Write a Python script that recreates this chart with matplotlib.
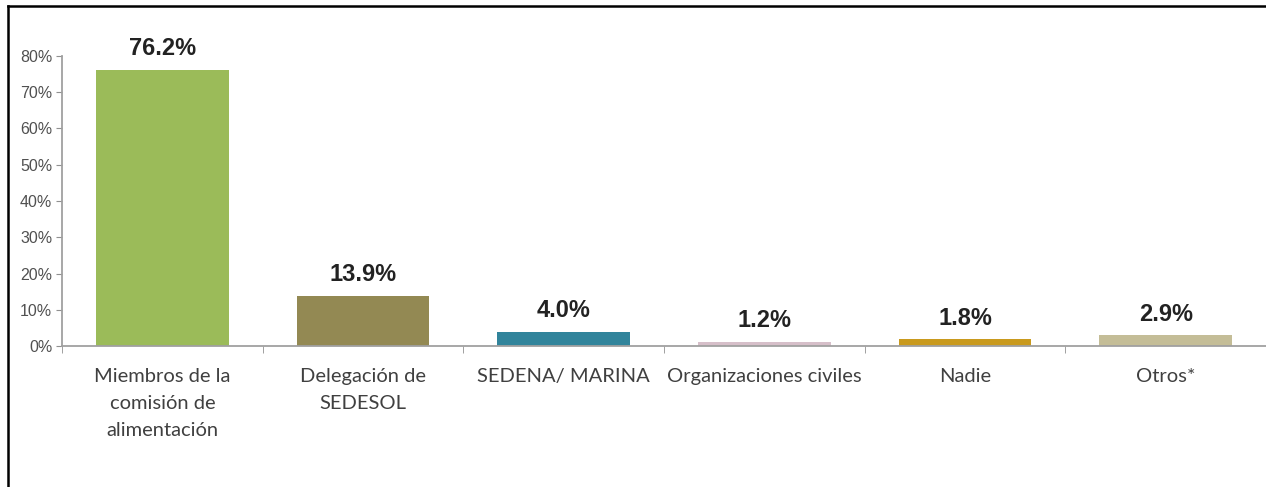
import matplotlib.pyplot as plt
from matplotlib.lines import Line2D
from matplotlib.ticker import FixedLocator, PercentFormatter

categories = [
    "Miembros de la\ncomisión de\nalimentación",
    "Delegación de\nSEDESOL",
    "SEDENA/ MARINA",
    "Organizaciones civiles",
    "Nadie",
    "Otros*",
]
values = [76.2, 13.9, 4.0, 1.2, 1.8, 2.9]
colors = ["#9BBB59", "#938953", "#31849B", "#D6BFC9", "#C99A1E", "#C4BD97"]
yticks = [0, 10, 20, 30, 40, 50, 60, 70, 80]


def main():
    fig = plt.figure(figsize=(12.66, 4.87), dpi=100)
    ax = fig.add_axes([62 / 1266, 1 - 346 / 487, 1 - 62 / 1266, 290 / 487])

    x = range(len(categories))
    ax.bar(x, values, width=0.66, color=colors, zorder=2)

    for xi, v in zip(x, values):
        ax.annotate(f"{v:.1f}%", (xi, v), xytext=(0, 7), textcoords="offset points",
                    ha="center", va="bottom", fontsize=17, fontweight="bold",
                    family="Liberation Sans", color="#222222", annotation_clip=False)

    ax.set_xlim(-0.5, len(categories) - 0.5)
    ax.set_ylim(0, 80)
    ax.set_yticks(yticks)
    ax.yaxis.set_major_formatter(PercentFormatter(decimals=0))

    ax.set_xticks(list(x))
    ax.set_xticklabels(categories, fontsize=14.5, family="Lato", color="#404040",
                       linespacing=1.7)
    ax.xaxis.set_minor_locator(FixedLocator([i + 0.5 for i in range(-1, len(categories))]))
    ax.tick_params(axis="x", which="major", length=0, pad=16)
    ax.tick_params(axis="x", which="minor", length=5, color="#909090", direction="out")
    ax.tick_params(axis="y", length=4, color="#909090", labelsize=11.5,
                   labelcolor="#505050", pad=3)
    for lab in ax.get_yticklabels():
        lab.set_family("Liberation Sans")

    for side in ("top", "right"):
        ax.spines[side].set_visible(False)
    for side in ("left", "bottom"):
        ax.spines[side].set_color("#A0A0A0")
        ax.spines[side].set_linewidth(1.3)

    # black frame around the picture on top and left
    fig.add_artist(Line2D([8 / 1266, 1], [1 - 6 / 487, 1 - 6 / 487],
                          transform=fig.transFigure, color="black", lw=1.8))
    fig.add_artist(Line2D([8 / 1266, 8 / 1266], [0, 1 - 6 / 487],
                          transform=fig.transFigure, color="black", lw=1.8))

    fig.savefig("out.png", dpi=100)


if __name__ == "__main__":
    main()
